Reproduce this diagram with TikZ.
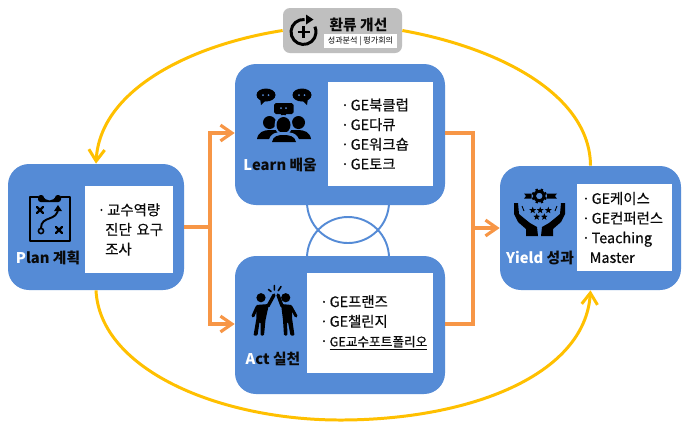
\documentclass[tikz,border=0pt]{standalone}
\usepackage{fontspec}
\setmainfont{Noto Sans CJK KR}
\newfontfamily\listfont[FakeBold=0.35]{Noto Sans CJK KR}
\usetikzlibrary{arrows.meta}
\definecolor{panelblue}{HTML}{558BD6}
\definecolor{flowline}{HTML}{F79646}
\definecolor{cycleline}{HTML}{FFC000}
\definecolor{badgegrey}{HTML}{BFBFBF}
\definecolor{inkdark}{HTML}{0A0A0A}
\newcommand{\bul}[1]{\makebox[5.5pt][l]{·}#1}
\newcommand{\hang}[1]{\mbox{\hspace*{4.4pt}#1}}
\tikzset{
  x=0.02cm,y=-0.02cm,
  panel/.style={fill=panelblue,rounded corners=0.42cm,inner sep=0pt},
  listbox/.style={fill=white,inner sep=0pt,font=\fontsize{8.2}{11.2}\listfont,text=inkdark,align=left},
  panellabel/.style={inner sep=0pt,font=\fontsize{8.4}{10}\selectfont\bfseries,text=inkdark},
  flow/.style={draw=flowline,line width=1.8pt,-{Straight Barb[length=6.5pt,width=9pt,line width=1.8pt]}},
  flowplain/.style={draw=flowline,line width=1.8pt},
  cycle/.style={draw=cycleline,line width=1.7pt},
  cyclearrow/.style={cycle,-{Straight Barb[length=6.5pt,width=9pt,line width=1.7pt]}},
  ring/.style={draw=panelblue,line width=1.1pt},
  iconline/.style={draw=black,line cap=round,line join=round},
  starmark/.pic={\fill[black] (270:3.6)--(306:1.5)--(342:3.6)--(18:1.5)--(54:3.6)--(90:1.5)--(126:3.6)--(162:1.5)--(198:3.6)--(234:1.5)--cycle;},
}
\begin{document}
\begin{tikzpicture}
\useasboundingbox[fill=white] (0,0) rectangle (688,434);

% overlapping rings between the two middle panels
\draw[ring] (348,202) circle (41);
\draw[ring] (348,258) circle (41);

% panels
\node[panel,minimum width=210*0.02cm,minimum height=141*0.02cm] (learn) at (340,134.5) {};
\node[panel,minimum width=210*0.02cm,minimum height=138*0.02cm] (act) at (340,325) {};
\node[panel,minimum width=176*0.02cm,minimum height=126*0.02cm] (plan) at (96,227) {};
\node[panel,minimum width=181*0.02cm,minimum height=124*0.02cm] (yield) at (590.5,228) {};
\node[fill=badgegrey,rounded corners=0.14cm,inner sep=0pt,minimum width=119*0.02cm,minimum height=45*0.02cm] (review) at (342.5,30.5) {};

% list boxes
\node[listbox,minimum width=105*0.02cm,minimum height=104*0.02cm,text width=79*0.02cm] (learnlist) at (380.5,134) {\bul{GE북클럽}\\\bul{GE다큐}\\\bul{GE워크숍}\\\bul{GE토크}};
\node[listbox,minimum width=126*0.02cm,minimum height=100*0.02cm,text width=100*0.02cm] (actlist) at (370,323) {\bul{GE프랜즈}\\\bul{GE챌린지}\\\bul{\underline{\fontsize{7.2}{11}\selectfont GE교수포트폴리오}}};
\node[listbox,minimum width=88*0.02cm,minimum height=87*0.02cm,text width=63*0.02cm] (planlist) at (129,229.5) {\bul{교수역량}\\\hang{진단 요구}\\\hang{조사}};
\node[listbox,minimum width=95*0.02cm,minimum height=87*0.02cm,text width=85*0.02cm] (yieldlist) at (624.5,227.5) {\bul{GE케이스}\\\bul{GE컨퍼런스}\\\bul{Teaching}\\\hang{Master}};
\node[fill=white,inner sep=0pt,minimum width=73*0.02cm,minimum height=14*0.02cm,font=\fontsize{4.6}{6}\selectfont,text=inkdark] (reviewsub) at (360.5,41) {성과분석 | 평가회의};

% labels
\node[panellabel] (learnlabel) at (280,165) {\textcolor{white}{L}earn 배움};
\node[panellabel] (planlabel) at (48,258) {\textcolor{white}{P}lan 계획};
\node[panellabel] (actlabel) at (273,359) {\textcolor{white}{A}ct 실천};
\node[panellabel] (yieldlabel) at (540,258) {\textcolor{white}{Yield} 성과};
\node[inner sep=0pt,font=\fontsize{8.4}{10}\selectfont\bfseries,text=inkdark] (reviewlabel) at (358.5,25) {환류 개선};

% orange flow lines
\coordinate (splitL) at (210,227);
\coordinate (splitLtop) at (210,133);
\coordinate (splitLbot) at (210,324);
\coordinate (joinR) at (473,228);
\coordinate (joinRtop) at (473,133);
\coordinate (joinRbot) at (473,324);
\draw[flowplain] (plan.east |- splitL) -- (splitL);
\draw[flow] (splitLtop) -- (learn.west |- splitLtop);
\draw[flow] (splitLbot) -- (act.west |- splitLbot);
\draw[flowplain,line cap=rect] (splitLtop) -- (splitLbot);
\draw[flowplain,line join=miter] (learn.east |- joinRtop) -- (joinRtop) -- (joinRbot) -- (act.east |- joinRbot);
\draw[flow] (joinR) -- (yield.west |- joinR);

% yellow improvement cycle
\draw[cyclearrow] (review.west) .. controls (190,45) and (100,90) .. (plan.north);
\draw[cycle] (review.east) .. controls (500,48) and (590,95) .. (yield.north);
\coordinate (cyclebottom) at (340,420);
\draw[cyclearrow] (plan.south) .. controls (100,370) and (220,420) .. (cyclebottom) .. controls (470,420) and (585,375) .. (yield.south);

% circular plus icon on the badge
\draw[black,line width=1.7pt] (304.6,19.5) arc[start angle=275,delta angle=-300,radius=12.5];
\fill[black] (306,14.5) -- (313.5,19.5) -- (306,24.5) -- cycle;
\draw[black,line width=1.6pt] (303.5,26) -- (303.5,38) (297.5,32) -- (309.5,32);

% clipboard icon
\draw[iconline,line width=1.4pt] (38,197) -- (30,197) -- (30,241) -- (70,241) -- (70,197) -- (61,197);
\fill[black,rounded corners=1.5pt] (38,202) -- (38,195) -- (44,195) arc[start angle=180,end angle=0,radius=5.5] -- (61,195) -- (61,202) -- cycle;
\fill[panelblue] (49.5,192.5) circle (1.6);
\draw[iconline,line width=1.3pt] (37,207) -- (43,213) (43,207) -- (37,213);
\draw[iconline,line width=1.3pt] (56,227) -- (62,233) (62,227) -- (56,233);
\draw[iconline,line width=1.1pt] (41,228) .. controls (41,215) and (58,222) .. (58,208);
\fill[black] (58,205) -- (62,211) -- (54,211) -- cycle;
\draw[black,line width=0.9pt] (41,231) circle (2.6);

% group with speech bubbles icon
\fill[black] (266,95) ellipse (9.5 and 6.5);
\fill[black] (260,98) -- (266,100) -- (261,105) -- cycle;
\fill[black] (302,95) ellipse (9.5 and 6.5);
\fill[black] (302,100) -- (308,98) -- (307,105) -- cycle;
\fill[black,rounded corners=1pt] (274,103) rectangle (293.5,114);
\fill[black] (280,113) -- (287,113) -- (283.5,118) -- cycle;
\fill[panelblue] (263,95) circle (1) (268.5,95) circle (1) (299,95) circle (1) (304.5,95) circle (1) (281,108) circle (1) (286,108) circle (1);
\fill[black] (269.5,122.5) circle (6.5) (298.5,122.5) circle (6.5);
\fill[black] (257,139) .. controls (258,132) and (264,130) .. (270,130) -- (298,130) .. controls (304,130) and (310,132) .. (311,139) -- (290,139) -- (278,139) -- cycle;
\fill[panelblue] (283.5,125) ellipse (9 and 10);
\fill[black] (283.5,125) ellipse (7 and 8);
\fill[panelblue] (268,143) .. controls (270,132) and (277,132) .. (283.5,132) .. controls (290,132) and (298,132) .. (300,143) -- cycle;
\fill[black] (272,142) .. controls (273,136) and (278,135) .. (283.5,135) .. controls (289,135) and (295,136) .. (296,142) -- cycle;

% high-five icon
\fill[black] (261,297.7) circle (4.6) (285.7,297.7) circle (4.6);
\draw[iconline,line width=1.9pt] (274,295) -- (268,306);
\draw[iconline,line width=1.9pt] (278,295) -- (282,306);
\draw[iconline,line width=1.7pt] (257,307) -- (253,316);
\draw[iconline,line width=1.7pt] (291,307) -- (296,316);
\fill[black,rounded corners=0.6pt] (256,305) -- (269,304) -- (265.5,320) -- (264,335.5) -- (260.5,335.5) -- (260.5,322) -- (259.5,322) -- (257.5,335.5) -- (253.5,335.5) -- (256.5,318) -- cycle;
\fill[black,rounded corners=0.6pt] (281,304) -- (292,305) -- (292,318) -- (294.5,335.5) -- (290.5,335.5) -- (288,322) -- (287,322) -- (287.5,335.5) -- (284,335.5) -- (283,320) -- cycle;
\draw[iconline,line width=0.9pt] (268.5,289.5) -- (271,291.5) (274.3,285.5) -- (274.3,290) (281,286.5) -- (278.3,290.7);

% hands with gear and stars icon
\draw[black,line width=1.6pt] (539.3,196) circle (4.8);
\foreach \a in {0,45,...,315} \draw[black,line width=1.4pt] (539.3,196) +(\a+22:4.5) -- +(\a+22:7.6);
\fill[black] (524,193.5) -- (531.5,193.5) -- (531.5,198.7) -- (524,198.7) -- (526,196) -- cycle;
\fill[black] (557,193.5) -- (547,193.5) -- (547,198.7) -- (557,198.7) -- (555,196) -- cycle;
\pic at (532.7,210.3) {starmark};
\pic at (540.2,210.3) {starmark};
\pic at (548.3,210.3) {starmark};
\pic at (536.7,216.9) {starmark};
\pic at (544.3,216.9) {starmark};
\fill[black] (514,203) -- (518,203) -- (519,214) -- (525,219) -- (530,223) -- (537,227) -- (538,236) -- (526,236) -- (526,229) -- (518,222) -- (514,214) -- cycle;
\fill[black] (565,203) -- (561,203) -- (560,214) -- (554,219) -- (549,223) -- (542,227) -- (541,236) -- (553,236) -- (553,229) -- (561,222) -- (565,214) -- cycle;
\draw[black,line width=0.5pt] (522,206) -- (524,211) (557,206) -- (555,211);
\end{tikzpicture}
\end{document}
